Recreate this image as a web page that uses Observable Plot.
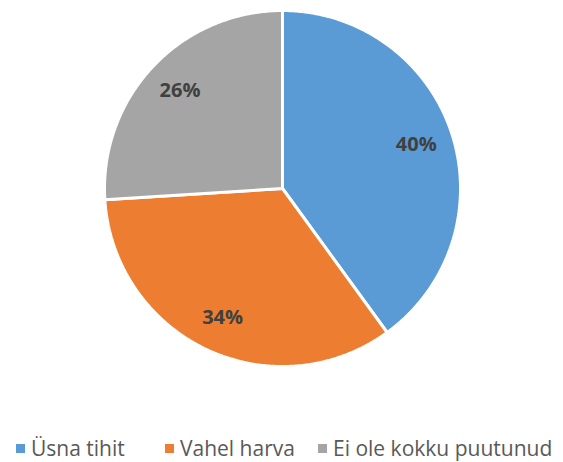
<!DOCTYPE html>
<html><head><meta charset="utf-8">
<script src="https://cdn.jsdelivr.net/npm/d3@7"></script>
<script src="https://cdn.jsdelivr.net/npm/@observablehq/plot@0.6"></script>
<style>
body{margin:0;background:#fff;font-family:"Open Sans",sans-serif;}
#wrap{position:relative;width:563px;height:462px;}
.leg{position:absolute;top:433px;font-size:21px;color:#595959;white-space:nowrap;line-height:30px;}
.leg i{display:inline-block;width:9px;height:9px;margin-right:6px;vertical-align:middle;position:relative;top:-2px;}
</style></head>
<body><div id="wrap"><div id="chart"></div></div>
<script>
const categories = ["Üsna tihit", "Vahel harva", "Ei ole kokku puutunud"];
const values = [40, 34, 26];
const colors = ["#5B9BD5", "#ED7D31", "#A5A5A5"];

const total = d3.sum(values);
const poly = [];
const labels = [];
let acc = 0;
values.forEach((v, i) => {
  const a0 = acc / total * 2 * Math.PI;
  acc += v;
  const a1 = acc / total * 2 * Math.PI;
  const n = Math.max(2, Math.ceil((a1 - a0) / 0.01));
  poly.push({k: categories[i], x: 0, y: 0});
  for (let j = 0; j <= n; j++) {
    const a = a0 + (a1 - a0) * j / n;
    poly.push({k: categories[i], x: Math.sin(a), y: Math.cos(a)});
  }
  poly.push({k: categories[i], x: 0, y: 0});
  const m = (a0 + a1) / 2;
  labels.push({x: 0.79 * Math.sin(m), y: 0.8 * Math.cos(m), t: v + "%"});
});

const chart = Plot.plot({
  width: 563, height: 380,
  marginLeft: 104, marginRight: 103, marginTop: 10, marginBottom: 14,
  x: {domain: [-1, 1], axis: null},
  y: {domain: [-1, 1], axis: null},
  color: {domain: categories, range: colors},
  style: {fontFamily: "Open Sans, sans-serif", background: "white"},
  marks: [
    Plot.line(poly, {x: "x", y: "y", z: "k", fill: "k", stroke: "white", strokeWidth: 3, strokeLinejoin: "miter", curve: "linear"}),
    Plot.text(labels, {x: "x", y: "y", text: "t", fontSize: 20, fontWeight: "bold", fill: "#404040"})
  ]
});
document.getElementById("chart").appendChild(chart);

const lefts = [16, 165, 318];
categories.forEach((c, i) => {
  const d = document.createElement("div");
  d.className = "leg";
  d.style.left = lefts[i] + "px";
  d.innerHTML = `<i style="background:${colors[i]}"></i>${c}`;
  document.getElementById("wrap").appendChild(d);
});
</script></body></html>
